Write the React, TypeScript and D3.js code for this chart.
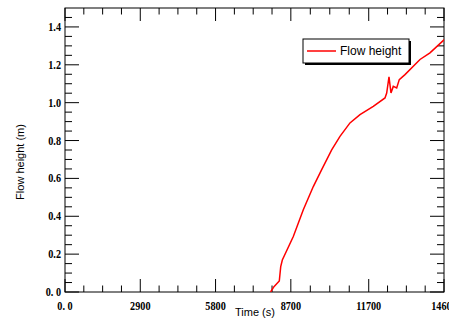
import React from "react";
import * as d3 from "d3";

const timeValues = [7920, 8050, 8255, 8310, 8372, 8795, 9180, 9565, 9888, 10273, 10593, 10978, 11364, 11876, 12327, 12392, 12481, 12558, 12646, 12777, 12877, 13097, 13675, 14060, 14610];
const flowHeight = [0, 0.028, 0.058, 0.134, 0.169, 0.293, 0.434, 0.557, 0.646, 0.751, 0.822, 0.893, 0.937, 0.98, 1.025, 1.051, 1.136, 1.051, 1.086, 1.078, 1.122, 1.148, 1.228, 1.263, 1.333];

const xTickValues = [0, 2900, 5800, 8700, 11700, 14600];
const xTickLabels = ["0. 0", "2900", "5800", "8700", "11700", "14600"];
const yTickValues = [0, 0.2, 0.4, 0.6, 0.8, 1.0, 1.2, 1.4];
const yTickLabels = ["0. 0", "0.2", "0.4", "0.6", "0.8", "1.0", "1.2", "1.4"];

const W = 449, H = 320;
const left = 65, right = 444, top = 8, bottom = 292;

export default function App() {
  const x = d3.scaleLinear().domain([0, 14600]).range([left, right]);
  const y = d3.scaleLinear().domain([0, 1.5]).range([bottom, top]);
  const data = timeValues.map((t, i) => [t, flowHeight[i]] as [number, number]);
  const line = d3.line<[number, number]>().x(d => x(d[0])).y(d => y(d[1]));

  const xMinor: number[] = [];
  for (let i = 0; i < xTickValues.length - 1; i++) {
    const a = xTickValues[i], b = xTickValues[i + 1];
    for (let k = 1; k < 4; k++) xMinor.push(a + (b - a) * k / 4);
  }
  const yMinor: number[] = d3.range(0.05, 1.5, 0.05).filter(v => Math.abs(Math.round(v / 0.2) * 0.2 - v) > 1e-6);

  const serif = "'Liberation Serif', 'DejaVu Serif', serif";
  const sans = "'Liberation Sans', Arial, sans-serif";

  return (
    <svg width={W} height={H} style={{ position: "absolute", left: 0, top: 0, background: "#fff" }}>
      <defs>
        <clipPath id="plot">
          <rect x={left} y={top} width={right - left} height={bottom - top} />
        </clipPath>
      </defs>
      <rect x={0} y={0} width={W} height={H} fill="#fff" />
      <rect x={left} y={top} width={right - left} height={bottom - top} fill="none" stroke="#000" strokeWidth={1} />
      {xTickValues.map((v, i) => (
        <g key={"xt" + i}>
          <line x1={x(v)} x2={x(v)} y1={bottom} y2={bottom - 13} stroke="#000" />
          <line x1={x(v)} x2={x(v)} y1={top} y2={top + 13} stroke="#000" />
          <text transform={`translate(${x(v)},310) scale(0.85,1)`} textAnchor="middle" fontFamily={serif} fontWeight="bold" fontSize={12} fill="#000">{xTickLabels[i]}</text>
        </g>
      ))}
      {xMinor.map((v, i) => (
        <g key={"xm" + i}>
          <line x1={x(v)} x2={x(v)} y1={bottom} y2={bottom - 6.5} stroke="#000" />
          <line x1={x(v)} x2={x(v)} y1={top} y2={top + 6.5} stroke="#000" />
        </g>
      ))}
      {yTickValues.map((v, i) => (
        <g key={"yt" + i}>
          <line x1={left} x2={left + 14} y1={y(v)} y2={y(v)} stroke="#000" />
          <line x1={right} x2={right - 14} y1={y(v)} y2={y(v)} stroke="#000" />
          <text transform={`translate(61,${y(v) + 4}) scale(0.85,1)`} textAnchor="end" fontFamily={serif} fontWeight="bold" fontSize={12} fill="#000">{yTickLabels[i]}</text>
        </g>
      ))}
      {yMinor.map((v, i) => (
        <g key={"ym" + i}>
          <line x1={left} x2={left + 7} y1={y(v)} y2={y(v)} stroke="#000" />
          <line x1={right} x2={right - 7} y1={y(v)} y2={y(v)} stroke="#000" />
        </g>
      ))}
      <path d={line(data) || ""} fill="none" stroke="#ff0000" strokeWidth={1.5} clipPath="url(#plot)" />
      <text x={255} y={316} textAnchor="middle" fontFamily={sans} fontSize={11} fill="#000">Time (s)</text>
      <text transform="translate(24,162) rotate(-90)" textAnchor="middle" fontFamily={sans} fontSize={11} fill="#000">Flow height (m)</text>
      <rect x={305} y={41} width={106} height={24} fill="#000" />
      <rect x={303} y={39} width={106} height={24} fill="#fff" stroke="#000" strokeWidth={1} />
      <line x1={307} x2={336} y1={51} y2={51} stroke="#ff0000" strokeWidth={1.5} />
      <text x={340} y={55} fontFamily={sans} fontSize={12} fill="#000">Flow height</text>
    </svg>
  );
}
